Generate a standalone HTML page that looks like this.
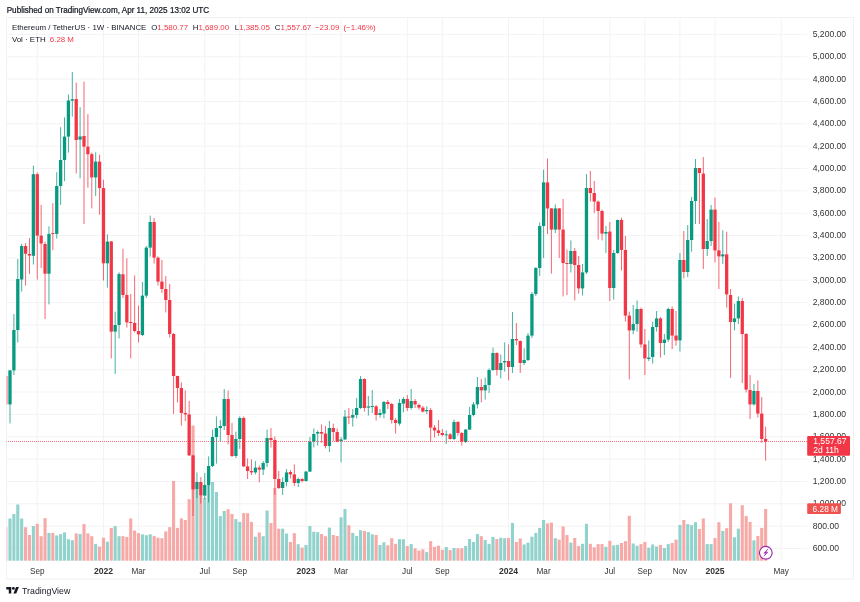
<!DOCTYPE html>
<html><head><meta charset="utf-8"><title>ETHUSDT 1W</title>
<style>html,body{margin:0;padding:0;background:#fff;}body{width:860px;height:602px;overflow:hidden;position:relative;}</style>
</head><body>
<svg width="860" height="602" viewBox="0 0 860 602" style="position:absolute;left:0;top:0;will-change:transform"><defs><clipPath id="pane"><rect x="6.5" y="17.5" width="800.5" height="543.5"/></clipPath></defs><rect x="6.5" y="17.5" width="847" height="561.6" fill="none" stroke="#f1f1f3" stroke-width="1"/><g clip-path="url(#pane)"><rect x="6.5" y="33.90" width="800.5" height="1" fill="#f3f3f5"/><rect x="6.5" y="56.25" width="800.5" height="1" fill="#f3f3f5"/><rect x="6.5" y="78.60" width="800.5" height="1" fill="#f3f3f5"/><rect x="6.5" y="100.96" width="800.5" height="1" fill="#f3f3f5"/><rect x="6.5" y="123.31" width="800.5" height="1" fill="#f3f3f5"/><rect x="6.5" y="145.66" width="800.5" height="1" fill="#f3f3f5"/><rect x="6.5" y="168.01" width="800.5" height="1" fill="#f3f3f5"/><rect x="6.5" y="190.36" width="800.5" height="1" fill="#f3f3f5"/><rect x="6.5" y="212.72" width="800.5" height="1" fill="#f3f3f5"/><rect x="6.5" y="235.07" width="800.5" height="1" fill="#f3f3f5"/><rect x="6.5" y="257.42" width="800.5" height="1" fill="#f3f3f5"/><rect x="6.5" y="279.77" width="800.5" height="1" fill="#f3f3f5"/><rect x="6.5" y="302.12" width="800.5" height="1" fill="#f3f3f5"/><rect x="6.5" y="324.48" width="800.5" height="1" fill="#f3f3f5"/><rect x="6.5" y="346.83" width="800.5" height="1" fill="#f3f3f5"/><rect x="6.5" y="369.18" width="800.5" height="1" fill="#f3f3f5"/><rect x="6.5" y="391.53" width="800.5" height="1" fill="#f3f3f5"/><rect x="6.5" y="413.88" width="800.5" height="1" fill="#f3f3f5"/><rect x="6.5" y="436.24" width="800.5" height="1" fill="#f3f3f5"/><rect x="6.5" y="458.59" width="800.5" height="1" fill="#f3f3f5"/><rect x="6.5" y="480.94" width="800.5" height="1" fill="#f3f3f5"/><rect x="6.5" y="503.29" width="800.5" height="1" fill="#f3f3f5"/><rect x="6.5" y="525.64" width="800.5" height="1" fill="#f3f3f5"/><rect x="6.5" y="548.00" width="800.5" height="1" fill="#f3f3f5"/><rect x="36.76" y="17.5" width="1" height="543.5" fill="#f3f3f5"/><rect x="102.97" y="17.5" width="1" height="543.5" fill="#f3f3f5"/><rect x="138.03" y="17.5" width="1" height="543.5" fill="#f3f3f5"/><rect x="204.25" y="17.5" width="1" height="543.5" fill="#f3f3f5"/><rect x="239.30" y="17.5" width="1" height="543.5" fill="#f3f3f5"/><rect x="305.52" y="17.5" width="1" height="543.5" fill="#f3f3f5"/><rect x="340.57" y="17.5" width="1" height="543.5" fill="#f3f3f5"/><rect x="406.79" y="17.5" width="1" height="543.5" fill="#f3f3f5"/><rect x="441.84" y="17.5" width="1" height="543.5" fill="#f3f3f5"/><rect x="508.06" y="17.5" width="1" height="543.5" fill="#f3f3f5"/><rect x="543.11" y="17.5" width="1" height="543.5" fill="#f3f3f5"/><rect x="609.33" y="17.5" width="1" height="543.5" fill="#f3f3f5"/><rect x="644.38" y="17.5" width="1" height="543.5" fill="#f3f3f5"/><rect x="679.44" y="17.5" width="1" height="543.5" fill="#f3f3f5"/><rect x="714.49" y="17.5" width="1" height="543.5" fill="#f3f3f5"/><rect x="780.71" y="17.5" width="1" height="543.5" fill="#f3f3f5"/><g><rect x="4.55" y="527.20" width="3.1" height="33.50" fill="#f7a9a7" opacity="0.55"/><rect x="8.44" y="518.50" width="3.1" height="42.20" fill="#92d2cc"/><rect x="12.34" y="514.00" width="3.1" height="46.70" fill="#92d2cc"/><rect x="16.23" y="504.50" width="3.1" height="56.20" fill="#92d2cc"/><rect x="20.13" y="518.50" width="3.1" height="42.20" fill="#92d2cc"/><rect x="24.03" y="527.20" width="3.1" height="33.50" fill="#f7a9a7"/><rect x="27.92" y="535.00" width="3.1" height="25.70" fill="#f7a9a7"/><rect x="31.82" y="526.00" width="3.1" height="34.70" fill="#92d2cc"/><rect x="35.71" y="523.80" width="3.1" height="36.90" fill="#f7a9a7"/><rect x="39.61" y="536.20" width="3.1" height="24.50" fill="#f7a9a7"/><rect x="43.50" y="518.20" width="3.1" height="42.50" fill="#f7a9a7"/><rect x="47.40" y="532.90" width="3.1" height="27.80" fill="#92d2cc"/><rect x="51.29" y="533.00" width="3.1" height="27.70" fill="#f7a9a7"/><rect x="55.19" y="535.50" width="3.1" height="25.20" fill="#92d2cc"/><rect x="59.08" y="534.10" width="3.1" height="26.60" fill="#92d2cc"/><rect x="62.97" y="532.40" width="3.1" height="28.30" fill="#92d2cc"/><rect x="66.87" y="539.20" width="3.1" height="21.50" fill="#92d2cc"/><rect x="70.77" y="540.20" width="3.1" height="20.50" fill="#92d2cc"/><rect x="74.66" y="533.40" width="3.1" height="27.30" fill="#f7a9a7"/><rect x="78.55" y="534.00" width="3.1" height="26.70" fill="#92d2cc"/><rect x="82.45" y="524.10" width="3.1" height="36.60" fill="#f7a9a7"/><rect x="86.34" y="533.40" width="3.1" height="27.30" fill="#f7a9a7"/><rect x="90.24" y="536.20" width="3.1" height="24.50" fill="#f7a9a7"/><rect x="94.13" y="544.10" width="3.1" height="16.60" fill="#92d2cc"/><rect x="98.03" y="546.50" width="3.1" height="14.20" fill="#f7a9a7"/><rect x="101.92" y="537.70" width="3.1" height="23.00" fill="#f7a9a7"/><rect x="105.82" y="541.70" width="3.1" height="19.00" fill="#92d2cc"/><rect x="109.72" y="527.90" width="3.1" height="32.80" fill="#f7a9a7"/><rect x="113.61" y="526.10" width="3.1" height="34.60" fill="#92d2cc"/><rect x="117.50" y="536.20" width="3.1" height="24.50" fill="#92d2cc"/><rect x="121.40" y="536.20" width="3.1" height="24.50" fill="#f7a9a7"/><rect x="125.30" y="537.00" width="3.1" height="23.70" fill="#f7a9a7"/><rect x="129.19" y="518.50" width="3.1" height="42.20" fill="#f7a9a7"/><rect x="133.08" y="530.60" width="3.1" height="30.10" fill="#f7a9a7"/><rect x="136.98" y="533.20" width="3.1" height="27.50" fill="#f7a9a7"/><rect x="140.87" y="534.40" width="3.1" height="26.30" fill="#92d2cc"/><rect x="144.77" y="535.20" width="3.1" height="25.50" fill="#92d2cc"/><rect x="148.66" y="534.30" width="3.1" height="26.40" fill="#92d2cc"/><rect x="152.56" y="536.10" width="3.1" height="24.60" fill="#f7a9a7"/><rect x="156.45" y="537.70" width="3.1" height="23.00" fill="#f7a9a7"/><rect x="160.35" y="538.20" width="3.1" height="22.50" fill="#f7a9a7"/><rect x="164.24" y="531.40" width="3.1" height="29.30" fill="#f7a9a7"/><rect x="168.14" y="527.20" width="3.1" height="33.50" fill="#f7a9a7"/><rect x="172.03" y="481.00" width="3.1" height="79.70" fill="#f7a9a7"/><rect x="175.93" y="527.90" width="3.1" height="32.80" fill="#f7a9a7"/><rect x="179.82" y="518.40" width="3.1" height="42.30" fill="#f7a9a7"/><rect x="183.72" y="520.00" width="3.1" height="40.70" fill="#f7a9a7"/><rect x="187.61" y="499.20" width="3.1" height="61.50" fill="#f7a9a7"/><rect x="191.51" y="425.50" width="3.1" height="135.20" fill="#f7a9a7"/><rect x="195.40" y="490.00" width="3.1" height="70.70" fill="#92d2cc"/><rect x="199.30" y="496.00" width="3.1" height="64.70" fill="#f7a9a7"/><rect x="203.19" y="498.00" width="3.1" height="62.70" fill="#92d2cc"/><rect x="207.09" y="485.00" width="3.1" height="75.70" fill="#92d2cc"/><rect x="210.98" y="482.00" width="3.1" height="78.70" fill="#92d2cc"/><rect x="214.88" y="492.00" width="3.1" height="68.70" fill="#92d2cc"/><rect x="218.77" y="516.10" width="3.1" height="44.60" fill="#92d2cc"/><rect x="222.67" y="511.00" width="3.1" height="49.70" fill="#92d2cc"/><rect x="226.56" y="509.20" width="3.1" height="51.50" fill="#f7a9a7"/><rect x="230.46" y="513.90" width="3.1" height="46.80" fill="#f7a9a7"/><rect x="234.35" y="519.10" width="3.1" height="41.60" fill="#92d2cc"/><rect x="238.25" y="521.90" width="3.1" height="38.80" fill="#92d2cc"/><rect x="242.14" y="513.10" width="3.1" height="47.60" fill="#f7a9a7"/><rect x="246.04" y="513.20" width="3.1" height="47.50" fill="#f7a9a7"/><rect x="249.93" y="521.90" width="3.1" height="38.80" fill="#f7a9a7"/><rect x="253.83" y="536.70" width="3.1" height="24.00" fill="#92d2cc"/><rect x="257.73" y="532.40" width="3.1" height="28.30" fill="#f7a9a7"/><rect x="261.62" y="536.20" width="3.1" height="24.50" fill="#92d2cc"/><rect x="265.51" y="510.50" width="3.1" height="50.20" fill="#92d2cc"/><rect x="269.41" y="523.10" width="3.1" height="37.60" fill="#f7a9a7"/><rect x="273.31" y="488.00" width="3.1" height="72.70" fill="#f7a9a7"/><rect x="277.20" y="528.70" width="3.1" height="32.00" fill="#f7a9a7"/><rect x="281.10" y="528.70" width="3.1" height="32.00" fill="#92d2cc"/><rect x="284.99" y="533.50" width="3.1" height="27.20" fill="#92d2cc"/><rect x="288.88" y="542.00" width="3.1" height="18.70" fill="#f7a9a7"/><rect x="292.78" y="533.20" width="3.1" height="27.50" fill="#f7a9a7"/><rect x="296.68" y="544.20" width="3.1" height="16.50" fill="#92d2cc"/><rect x="300.57" y="547.60" width="3.1" height="13.10" fill="#f7a9a7"/><rect x="304.47" y="545.00" width="3.1" height="15.70" fill="#92d2cc"/><rect x="308.36" y="526.00" width="3.1" height="34.70" fill="#92d2cc"/><rect x="312.25" y="531.70" width="3.1" height="29.00" fill="#92d2cc"/><rect x="316.15" y="532.10" width="3.1" height="28.60" fill="#92d2cc"/><rect x="320.05" y="534.00" width="3.1" height="26.70" fill="#f7a9a7"/><rect x="323.94" y="536.20" width="3.1" height="24.50" fill="#f7a9a7"/><rect x="327.84" y="527.60" width="3.1" height="33.10" fill="#92d2cc"/><rect x="331.73" y="535.00" width="3.1" height="25.70" fill="#f7a9a7"/><rect x="335.62" y="535.90" width="3.1" height="24.80" fill="#f7a9a7"/><rect x="339.52" y="517.30" width="3.1" height="43.40" fill="#92d2cc"/><rect x="343.42" y="509.00" width="3.1" height="51.70" fill="#92d2cc"/><rect x="347.31" y="525.20" width="3.1" height="35.50" fill="#f7a9a7"/><rect x="351.21" y="532.90" width="3.1" height="27.80" fill="#92d2cc"/><rect x="355.10" y="535.90" width="3.1" height="24.80" fill="#92d2cc"/><rect x="359.00" y="530.20" width="3.1" height="30.50" fill="#92d2cc"/><rect x="362.89" y="530.90" width="3.1" height="29.80" fill="#f7a9a7"/><rect x="366.79" y="532.10" width="3.1" height="28.60" fill="#92d2cc"/><rect x="370.68" y="534.30" width="3.1" height="26.40" fill="#92d2cc"/><rect x="374.57" y="535.00" width="3.1" height="25.70" fill="#f7a9a7"/><rect x="378.47" y="545.00" width="3.1" height="15.70" fill="#92d2cc"/><rect x="382.37" y="542.30" width="3.1" height="18.40" fill="#92d2cc"/><rect x="386.26" y="545.30" width="3.1" height="15.40" fill="#f7a9a7"/><rect x="390.16" y="538.20" width="3.1" height="22.50" fill="#f7a9a7"/><rect x="394.05" y="543.80" width="3.1" height="16.90" fill="#f7a9a7"/><rect x="397.94" y="539.20" width="3.1" height="21.50" fill="#92d2cc"/><rect x="401.84" y="539.20" width="3.1" height="21.50" fill="#92d2cc"/><rect x="405.74" y="546.00" width="3.1" height="14.70" fill="#f7a9a7"/><rect x="409.63" y="544.10" width="3.1" height="16.60" fill="#92d2cc"/><rect x="413.53" y="548.30" width="3.1" height="12.40" fill="#f7a9a7"/><rect x="417.42" y="550.60" width="3.1" height="10.10" fill="#f7a9a7"/><rect x="421.31" y="549.40" width="3.1" height="11.30" fill="#f7a9a7"/><rect x="425.21" y="552.10" width="3.1" height="8.60" fill="#92d2cc"/><rect x="429.11" y="541.10" width="3.1" height="19.60" fill="#f7a9a7"/><rect x="433.00" y="546.80" width="3.1" height="13.90" fill="#f7a9a7"/><rect x="436.90" y="545.70" width="3.1" height="15.00" fill="#f7a9a7"/><rect x="440.79" y="549.80" width="3.1" height="10.90" fill="#f7a9a7"/><rect x="444.69" y="547.00" width="3.1" height="13.70" fill="#92d2cc"/><rect x="448.58" y="550.10" width="3.1" height="10.60" fill="#f7a9a7"/><rect x="452.48" y="548.00" width="3.1" height="12.70" fill="#92d2cc"/><rect x="456.37" y="548.30" width="3.1" height="12.40" fill="#f7a9a7"/><rect x="460.26" y="548.30" width="3.1" height="12.40" fill="#f7a9a7"/><rect x="464.16" y="546.00" width="3.1" height="14.70" fill="#92d2cc"/><rect x="468.06" y="539.00" width="3.1" height="21.70" fill="#92d2cc"/><rect x="471.95" y="542.00" width="3.1" height="18.70" fill="#92d2cc"/><rect x="475.85" y="534.00" width="3.1" height="26.70" fill="#92d2cc"/><rect x="479.74" y="536.20" width="3.1" height="24.50" fill="#f7a9a7"/><rect x="483.63" y="540.00" width="3.1" height="20.70" fill="#92d2cc"/><rect x="487.53" y="543.80" width="3.1" height="16.90" fill="#92d2cc"/><rect x="491.43" y="537.00" width="3.1" height="23.70" fill="#92d2cc"/><rect x="495.32" y="539.00" width="3.1" height="21.70" fill="#f7a9a7"/><rect x="499.22" y="537.70" width="3.1" height="23.00" fill="#92d2cc"/><rect x="503.11" y="538.20" width="3.1" height="22.50" fill="#92d2cc"/><rect x="507.00" y="538.00" width="3.1" height="22.70" fill="#f7a9a7"/><rect x="510.90" y="522.90" width="3.1" height="37.80" fill="#92d2cc"/><rect x="514.80" y="542.00" width="3.1" height="18.70" fill="#f7a9a7"/><rect x="518.69" y="538.50" width="3.1" height="22.20" fill="#f7a9a7"/><rect x="522.59" y="544.50" width="3.1" height="16.20" fill="#92d2cc"/><rect x="526.48" y="542.60" width="3.1" height="18.10" fill="#92d2cc"/><rect x="530.38" y="536.70" width="3.1" height="24.00" fill="#92d2cc"/><rect x="534.27" y="532.90" width="3.1" height="27.80" fill="#92d2cc"/><rect x="538.17" y="527.90" width="3.1" height="32.80" fill="#92d2cc"/><rect x="542.06" y="520.00" width="3.1" height="40.70" fill="#92d2cc"/><rect x="545.96" y="523.40" width="3.1" height="37.30" fill="#f7a9a7"/><rect x="549.85" y="522.60" width="3.1" height="38.10" fill="#f7a9a7"/><rect x="553.75" y="538.20" width="3.1" height="22.50" fill="#92d2cc"/><rect x="557.64" y="539.60" width="3.1" height="21.10" fill="#f7a9a7"/><rect x="561.54" y="526.40" width="3.1" height="34.30" fill="#f7a9a7"/><rect x="565.43" y="535.00" width="3.1" height="25.70" fill="#f7a9a7"/><rect x="569.33" y="542.60" width="3.1" height="18.10" fill="#92d2cc"/><rect x="573.22" y="538.00" width="3.1" height="22.70" fill="#f7a9a7"/><rect x="577.12" y="546.00" width="3.1" height="14.70" fill="#f7a9a7"/><rect x="581.01" y="543.80" width="3.1" height="16.90" fill="#92d2cc"/><rect x="584.91" y="523.80" width="3.1" height="36.90" fill="#92d2cc"/><rect x="588.80" y="543.80" width="3.1" height="16.90" fill="#f7a9a7"/><rect x="592.70" y="547.30" width="3.1" height="13.40" fill="#f7a9a7"/><rect x="596.59" y="544.10" width="3.1" height="16.60" fill="#f7a9a7"/><rect x="600.49" y="544.10" width="3.1" height="16.60" fill="#f7a9a7"/><rect x="604.38" y="546.80" width="3.1" height="13.90" fill="#92d2cc"/><rect x="608.28" y="540.80" width="3.1" height="19.90" fill="#f7a9a7"/><rect x="612.17" y="545.30" width="3.1" height="15.40" fill="#92d2cc"/><rect x="616.07" y="544.80" width="3.1" height="15.90" fill="#92d2cc"/><rect x="619.96" y="543.00" width="3.1" height="17.70" fill="#f7a9a7"/><rect x="623.86" y="541.10" width="3.1" height="19.60" fill="#f7a9a7"/><rect x="627.75" y="515.80" width="3.1" height="44.90" fill="#f7a9a7"/><rect x="631.65" y="543.50" width="3.1" height="17.20" fill="#92d2cc"/><rect x="635.54" y="545.70" width="3.1" height="15.00" fill="#92d2cc"/><rect x="639.44" y="544.10" width="3.1" height="16.60" fill="#f7a9a7"/><rect x="643.33" y="542.00" width="3.1" height="18.70" fill="#f7a9a7"/><rect x="647.23" y="547.60" width="3.1" height="13.10" fill="#92d2cc"/><rect x="651.12" y="544.50" width="3.1" height="16.20" fill="#92d2cc"/><rect x="655.02" y="546.50" width="3.1" height="14.20" fill="#92d2cc"/><rect x="658.91" y="545.00" width="3.1" height="15.70" fill="#f7a9a7"/><rect x="662.81" y="548.00" width="3.1" height="12.70" fill="#92d2cc"/><rect x="666.70" y="544.10" width="3.1" height="16.60" fill="#92d2cc"/><rect x="670.60" y="543.00" width="3.1" height="17.70" fill="#f7a9a7"/><rect x="674.49" y="539.70" width="3.1" height="21.00" fill="#f7a9a7"/><rect x="678.39" y="524.90" width="3.1" height="35.80" fill="#92d2cc"/><rect x="682.28" y="520.00" width="3.1" height="40.70" fill="#f7a9a7"/><rect x="686.18" y="524.10" width="3.1" height="36.60" fill="#92d2cc"/><rect x="690.07" y="525.20" width="3.1" height="35.50" fill="#92d2cc"/><rect x="693.97" y="522.20" width="3.1" height="38.50" fill="#92d2cc"/><rect x="697.86" y="529.00" width="3.1" height="31.70" fill="#f7a9a7"/><rect x="701.76" y="518.50" width="3.1" height="42.20" fill="#f7a9a7"/><rect x="705.65" y="544.10" width="3.1" height="16.60" fill="#92d2cc"/><rect x="709.55" y="544.10" width="3.1" height="16.60" fill="#92d2cc"/><rect x="713.44" y="538.00" width="3.1" height="22.70" fill="#f7a9a7"/><rect x="717.34" y="522.20" width="3.1" height="38.50" fill="#f7a9a7"/><rect x="721.23" y="530.90" width="3.1" height="29.80" fill="#92d2cc"/><rect x="725.13" y="528.20" width="3.1" height="32.50" fill="#f7a9a7"/><rect x="729.02" y="503.30" width="3.1" height="57.40" fill="#f7a9a7"/><rect x="732.92" y="537.30" width="3.1" height="23.40" fill="#92d2cc"/><rect x="736.81" y="528.70" width="3.1" height="32.00" fill="#92d2cc"/><rect x="740.71" y="505.20" width="3.1" height="55.50" fill="#f7a9a7"/><rect x="744.60" y="516.10" width="3.1" height="44.60" fill="#f7a9a7"/><rect x="748.50" y="521.90" width="3.1" height="38.80" fill="#f7a9a7"/><rect x="752.39" y="540.30" width="3.1" height="20.40" fill="#92d2cc"/><rect x="756.29" y="535.90" width="3.1" height="24.80" fill="#f7a9a7"/><rect x="760.18" y="527.90" width="3.1" height="32.80" fill="#f7a9a7"/><rect x="764.08" y="509.00" width="3.1" height="51.70" fill="#f7a9a7"/></g><g opacity="0.75"><rect x="9.49" y="370.00" width="1.0" height="53.50" fill="#089981"/><rect x="13.39" y="314.00" width="1.0" height="61.00" fill="#089981"/><rect x="17.29" y="259.00" width="1.0" height="83.40" fill="#089981"/><rect x="21.18" y="243.60" width="1.0" height="48.00" fill="#089981"/><rect x="25.08" y="243.00" width="1.0" height="42.60" fill="#F23645"/><rect x="28.97" y="238.00" width="1.0" height="36.00" fill="#F23645"/><rect x="32.87" y="165.60" width="1.0" height="98.90" fill="#089981"/><rect x="36.76" y="172.40" width="1.0" height="107.20" fill="#F23645"/><rect x="40.66" y="204.90" width="1.0" height="63.20" fill="#F23645"/><rect x="44.55" y="241.60" width="1.0" height="77.40" fill="#F23645"/><rect x="48.45" y="226.30" width="1.0" height="78.10" fill="#089981"/><rect x="52.34" y="203.10" width="1.0" height="47.10" fill="#F23645"/><rect x="56.23" y="172.20" width="1.0" height="66.40" fill="#089981"/><rect x="60.13" y="127.20" width="1.0" height="77.70" fill="#089981"/><rect x="64.02" y="117.40" width="1.0" height="63.80" fill="#089981"/><rect x="67.92" y="94.40" width="1.0" height="58.20" fill="#089981"/><rect x="71.81" y="72.00" width="1.0" height="44.60" fill="#089981"/><rect x="75.71" y="82.60" width="1.0" height="90.90" fill="#F23645"/><rect x="79.60" y="107.20" width="1.0" height="71.20" fill="#089981"/><rect x="83.50" y="81.60" width="1.0" height="142.40" fill="#F23645"/><rect x="87.39" y="114.20" width="1.0" height="73.50" fill="#F23645"/><rect x="91.29" y="152.60" width="1.0" height="55.80" fill="#F23645"/><rect x="95.18" y="152.30" width="1.0" height="43.80" fill="#089981"/><rect x="99.08" y="154.60" width="1.0" height="60.10" fill="#F23645"/><rect x="102.97" y="179.80" width="1.0" height="100.70" fill="#F23645"/><rect x="106.87" y="234.30" width="1.0" height="53.30" fill="#089981"/><rect x="110.77" y="241.00" width="1.0" height="117.40" fill="#F23645"/><rect x="114.66" y="311.60" width="1.0" height="62.40" fill="#089981"/><rect x="118.55" y="272.30" width="1.0" height="66.10" fill="#089981"/><rect x="122.45" y="248.80" width="1.0" height="49.20" fill="#F23645"/><rect x="126.34" y="258.30" width="1.0" height="69.30" fill="#F23645"/><rect x="130.24" y="294.00" width="1.0" height="64.40" fill="#F23645"/><rect x="134.13" y="275.40" width="1.0" height="57.00" fill="#F23645"/><rect x="138.03" y="305.60" width="1.0" height="36.80" fill="#F23645"/><rect x="141.92" y="282.00" width="1.0" height="54.00" fill="#089981"/><rect x="145.82" y="246.00" width="1.0" height="52.00" fill="#089981"/><rect x="149.72" y="215.60" width="1.0" height="41.00" fill="#089981"/><rect x="153.61" y="218.00" width="1.0" height="45.60" fill="#F23645"/><rect x="157.50" y="256.40" width="1.0" height="29.20" fill="#F23645"/><rect x="161.40" y="260.00" width="1.0" height="33.00" fill="#F23645"/><rect x="165.29" y="276.00" width="1.0" height="36.40" fill="#F23645"/><rect x="169.19" y="284.00" width="1.0" height="53.60" fill="#F23645"/><rect x="173.09" y="333.00" width="1.0" height="81.00" fill="#F23645"/><rect x="176.98" y="375.60" width="1.0" height="26.80" fill="#F23645"/><rect x="180.88" y="382.40" width="1.0" height="43.20" fill="#F23645"/><rect x="184.77" y="390.40" width="1.0" height="30.60" fill="#F23645"/><rect x="188.66" y="401.00" width="1.0" height="55.00" fill="#F23645"/><rect x="192.56" y="455.00" width="1.0" height="61.00" fill="#F23645"/><rect x="196.45" y="472.40" width="1.0" height="25.60" fill="#089981"/><rect x="200.35" y="477.00" width="1.0" height="26.60" fill="#F23645"/><rect x="204.25" y="473.00" width="1.0" height="26.00" fill="#089981"/><rect x="208.14" y="456.40" width="1.0" height="46.00" fill="#089981"/><rect x="212.03" y="429.60" width="1.0" height="37.40" fill="#089981"/><rect x="215.93" y="416.40" width="1.0" height="47.20" fill="#089981"/><rect x="219.82" y="420.00" width="1.0" height="21.00" fill="#089981"/><rect x="223.72" y="389.00" width="1.0" height="41.00" fill="#089981"/><rect x="227.62" y="390.60" width="1.0" height="53.80" fill="#F23645"/><rect x="231.51" y="423.00" width="1.0" height="34.00" fill="#F23645"/><rect x="235.41" y="431.60" width="1.0" height="26.40" fill="#089981"/><rect x="239.30" y="416.40" width="1.0" height="32.60" fill="#089981"/><rect x="243.19" y="416.40" width="1.0" height="50.60" fill="#F23645"/><rect x="247.09" y="458.40" width="1.0" height="20.60" fill="#F23645"/><rect x="250.98" y="459.40" width="1.0" height="15.60" fill="#F23645"/><rect x="254.88" y="461.00" width="1.0" height="13.40" fill="#089981"/><rect x="258.78" y="465.60" width="1.0" height="16.80" fill="#F23645"/><rect x="262.67" y="461.00" width="1.0" height="14.00" fill="#089981"/><rect x="266.56" y="429.60" width="1.0" height="37.40" fill="#089981"/><rect x="270.46" y="428.00" width="1.0" height="19.60" fill="#F23645"/><rect x="274.36" y="436.40" width="1.0" height="58.60" fill="#F23645"/><rect x="278.25" y="471.00" width="1.0" height="18.00" fill="#F23645"/><rect x="282.15" y="477.40" width="1.0" height="17.60" fill="#089981"/><rect x="286.04" y="469.00" width="1.0" height="17.40" fill="#089981"/><rect x="289.94" y="470.00" width="1.0" height="8.40" fill="#F23645"/><rect x="293.83" y="464.40" width="1.0" height="21.60" fill="#F23645"/><rect x="297.73" y="477.60" width="1.0" height="9.40" fill="#089981"/><rect x="301.62" y="478.00" width="1.0" height="4.40" fill="#F23645"/><rect x="305.52" y="471.00" width="1.0" height="10.60" fill="#089981"/><rect x="309.41" y="437.00" width="1.0" height="35.00" fill="#089981"/><rect x="313.31" y="428.40" width="1.0" height="19.00" fill="#089981"/><rect x="317.20" y="430.40" width="1.0" height="15.20" fill="#089981"/><rect x="321.10" y="424.40" width="1.0" height="18.60" fill="#F23645"/><rect x="324.99" y="426.00" width="1.0" height="22.40" fill="#F23645"/><rect x="328.89" y="421.00" width="1.0" height="31.00" fill="#089981"/><rect x="332.78" y="423.60" width="1.0" height="17.40" fill="#F23645"/><rect x="336.68" y="428.40" width="1.0" height="14.00" fill="#F23645"/><rect x="340.57" y="437.00" width="1.0" height="25.40" fill="#089981"/><rect x="344.47" y="410.00" width="1.0" height="30.00" fill="#089981"/><rect x="348.36" y="408.00" width="1.0" height="16.00" fill="#F23645"/><rect x="352.26" y="409.00" width="1.0" height="17.60" fill="#089981"/><rect x="356.15" y="398.00" width="1.0" height="20.40" fill="#089981"/><rect x="360.05" y="376.00" width="1.0" height="33.00" fill="#089981"/><rect x="363.94" y="378.40" width="1.0" height="33.20" fill="#F23645"/><rect x="367.84" y="396.00" width="1.0" height="19.60" fill="#089981"/><rect x="371.73" y="390.00" width="1.0" height="23.00" fill="#089981"/><rect x="375.62" y="405.00" width="1.0" height="15.60" fill="#F23645"/><rect x="379.52" y="409.00" width="1.0" height="8.60" fill="#089981"/><rect x="383.42" y="401.00" width="1.0" height="17.40" fill="#089981"/><rect x="387.31" y="400.00" width="1.0" height="9.00" fill="#F23645"/><rect x="391.21" y="403.00" width="1.0" height="20.60" fill="#F23645"/><rect x="395.10" y="418.00" width="1.0" height="15.60" fill="#F23645"/><rect x="399.00" y="399.00" width="1.0" height="26.60" fill="#089981"/><rect x="402.89" y="397.00" width="1.0" height="15.40" fill="#089981"/><rect x="406.79" y="395.00" width="1.0" height="16.00" fill="#F23645"/><rect x="410.68" y="389.00" width="1.0" height="20.60" fill="#089981"/><rect x="414.58" y="399.00" width="1.0" height="9.00" fill="#F23645"/><rect x="418.47" y="403.60" width="1.0" height="6.00" fill="#F23645"/><rect x="422.37" y="406.00" width="1.0" height="6.40" fill="#F23645"/><rect x="426.26" y="406.40" width="1.0" height="7.60" fill="#089981"/><rect x="430.16" y="408.00" width="1.0" height="34.00" fill="#F23645"/><rect x="434.05" y="425.00" width="1.0" height="12.60" fill="#F23645"/><rect x="437.95" y="420.00" width="1.0" height="16.00" fill="#F23645"/><rect x="441.84" y="429.00" width="1.0" height="7.40" fill="#F23645"/><rect x="445.74" y="430.40" width="1.0" height="13.60" fill="#089981"/><rect x="449.63" y="433.00" width="1.0" height="6.60" fill="#F23645"/><rect x="453.53" y="419.60" width="1.0" height="20.40" fill="#089981"/><rect x="457.42" y="421.00" width="1.0" height="14.60" fill="#F23645"/><rect x="461.31" y="432.00" width="1.0" height="13.60" fill="#F23645"/><rect x="465.21" y="429.00" width="1.0" height="14.00" fill="#089981"/><rect x="469.11" y="407.00" width="1.0" height="23.00" fill="#089981"/><rect x="473.00" y="402.00" width="1.0" height="14.40" fill="#089981"/><rect x="476.90" y="377.00" width="1.0" height="31.40" fill="#089981"/><rect x="480.79" y="379.00" width="1.0" height="23.40" fill="#F23645"/><rect x="484.69" y="377.60" width="1.0" height="22.00" fill="#089981"/><rect x="488.58" y="368.40" width="1.0" height="24.60" fill="#089981"/><rect x="492.48" y="347.60" width="1.0" height="23.40" fill="#089981"/><rect x="496.37" y="352.40" width="1.0" height="23.20" fill="#F23645"/><rect x="500.27" y="354.40" width="1.0" height="24.00" fill="#089981"/><rect x="504.16" y="342.40" width="1.0" height="29.20" fill="#089981"/><rect x="508.06" y="344.40" width="1.0" height="36.00" fill="#F23645"/><rect x="511.95" y="312.00" width="1.0" height="61.00" fill="#089981"/><rect x="515.85" y="323.00" width="1.0" height="22.00" fill="#F23645"/><rect x="519.74" y="340.40" width="1.0" height="32.60" fill="#F23645"/><rect x="523.63" y="348.40" width="1.0" height="16.60" fill="#089981"/><rect x="527.53" y="333.00" width="1.0" height="28.00" fill="#089981"/><rect x="531.43" y="292.00" width="1.0" height="46.00" fill="#089981"/><rect x="535.32" y="267.00" width="1.0" height="29.00" fill="#089981"/><rect x="539.22" y="222.40" width="1.0" height="53.60" fill="#089981"/><rect x="543.11" y="169.60" width="1.0" height="88.40" fill="#089981"/><rect x="547.00" y="158.40" width="1.0" height="75.60" fill="#F23645"/><rect x="550.90" y="208.00" width="1.0" height="65.60" fill="#F23645"/><rect x="554.80" y="204.40" width="1.0" height="28.60" fill="#089981"/><rect x="558.69" y="208.00" width="1.0" height="50.00" fill="#F23645"/><rect x="562.59" y="199.00" width="1.0" height="97.40" fill="#F23645"/><rect x="566.48" y="249.60" width="1.0" height="45.40" fill="#F23645"/><rect x="570.38" y="240.40" width="1.0" height="32.00" fill="#089981"/><rect x="574.27" y="248.00" width="1.0" height="52.40" fill="#F23645"/><rect x="578.17" y="256.00" width="1.0" height="37.60" fill="#F23645"/><rect x="582.06" y="264.00" width="1.0" height="31.60" fill="#089981"/><rect x="585.96" y="174.00" width="1.0" height="100.00" fill="#089981"/><rect x="589.85" y="171.00" width="1.0" height="30.60" fill="#F23645"/><rect x="593.75" y="181.00" width="1.0" height="32.00" fill="#F23645"/><rect x="597.64" y="200.40" width="1.0" height="39.20" fill="#F23645"/><rect x="601.54" y="209.60" width="1.0" height="30.80" fill="#F23645"/><rect x="605.43" y="226.00" width="1.0" height="27.00" fill="#089981"/><rect x="609.33" y="222.00" width="1.0" height="79.00" fill="#F23645"/><rect x="613.22" y="250.00" width="1.0" height="49.60" fill="#089981"/><rect x="617.12" y="219.60" width="1.0" height="34.40" fill="#089981"/><rect x="621.01" y="217.60" width="1.0" height="52.80" fill="#F23645"/><rect x="624.90" y="236.00" width="1.0" height="85.60" fill="#F23645"/><rect x="628.80" y="311.60" width="1.0" height="67.80" fill="#F23645"/><rect x="632.70" y="305.00" width="1.0" height="29.40" fill="#089981"/><rect x="636.59" y="300.40" width="1.0" height="31.20" fill="#089981"/><rect x="640.49" y="307.60" width="1.0" height="40.00" fill="#F23645"/><rect x="644.38" y="329.00" width="1.0" height="46.00" fill="#F23645"/><rect x="648.27" y="340.40" width="1.0" height="20.60" fill="#089981"/><rect x="652.17" y="321.60" width="1.0" height="42.00" fill="#089981"/><rect x="656.07" y="311.00" width="1.0" height="20.60" fill="#089981"/><rect x="659.96" y="317.00" width="1.0" height="40.60" fill="#F23645"/><rect x="663.86" y="334.00" width="1.0" height="21.00" fill="#089981"/><rect x="667.75" y="307.60" width="1.0" height="34.40" fill="#089981"/><rect x="671.64" y="306.40" width="1.0" height="42.60" fill="#F23645"/><rect x="675.54" y="311.00" width="1.0" height="34.60" fill="#F23645"/><rect x="679.44" y="253.00" width="1.0" height="98.60" fill="#089981"/><rect x="683.33" y="231.00" width="1.0" height="47.40" fill="#F23645"/><rect x="687.23" y="225.00" width="1.0" height="52.00" fill="#089981"/><rect x="691.12" y="197.00" width="1.0" height="54.60" fill="#089981"/><rect x="695.01" y="159.00" width="1.0" height="65.00" fill="#089981"/><rect x="698.91" y="168.00" width="1.0" height="56.00" fill="#F23645"/><rect x="702.81" y="157.00" width="1.0" height="112.00" fill="#F23645"/><rect x="706.70" y="219.00" width="1.0" height="37.00" fill="#089981"/><rect x="710.60" y="205.00" width="1.0" height="41.00" fill="#089981"/><rect x="714.49" y="197.60" width="1.0" height="64.80" fill="#F23645"/><rect x="718.38" y="222.00" width="1.0" height="67.00" fill="#F23645"/><rect x="722.28" y="230.40" width="1.0" height="33.60" fill="#089981"/><rect x="726.18" y="231.60" width="1.0" height="76.00" fill="#F23645"/><rect x="730.07" y="289.00" width="1.0" height="89.00" fill="#F23645"/><rect x="733.97" y="303.60" width="1.0" height="26.80" fill="#089981"/><rect x="737.86" y="296.40" width="1.0" height="27.60" fill="#089981"/><rect x="741.75" y="298.00" width="1.0" height="85.00" fill="#F23645"/><rect x="745.65" y="333.00" width="1.0" height="59.40" fill="#F23645"/><rect x="749.55" y="375.00" width="1.0" height="44.00" fill="#F23645"/><rect x="753.44" y="384.00" width="1.0" height="21.60" fill="#089981"/><rect x="757.34" y="380.40" width="1.0" height="37.20" fill="#F23645"/><rect x="761.23" y="397.00" width="1.0" height="46.00" fill="#F23645"/><rect x="765.12" y="426.60" width="1.0" height="34.10" fill="#F23645"/></g><g><rect x="4.45" y="376.00" width="3.3" height="28.40" fill="#F23645" opacity="0.55"/><rect x="8.34" y="370.40" width="3.3" height="34.00" fill="#089981"/><rect x="12.24" y="330.00" width="3.3" height="40.40" fill="#089981"/><rect x="16.14" y="279.00" width="3.3" height="51.00" fill="#089981"/><rect x="20.03" y="246.00" width="3.3" height="33.50" fill="#089981"/><rect x="23.93" y="246.00" width="3.3" height="7.70" fill="#F23645"/><rect x="27.82" y="254.00" width="3.3" height="1.60" fill="#F23645"/><rect x="31.72" y="174.20" width="3.3" height="81.60" fill="#089981"/><rect x="35.61" y="174.20" width="3.3" height="61.40" fill="#F23645"/><rect x="39.51" y="235.60" width="3.3" height="7.90" fill="#F23645"/><rect x="43.40" y="244.00" width="3.3" height="29.70" fill="#F23645"/><rect x="47.30" y="233.90" width="3.3" height="39.80" fill="#089981"/><rect x="51.19" y="233.10" width="3.3" height="0.90" fill="#F23645"/><rect x="55.09" y="186.00" width="3.3" height="47.90" fill="#089981"/><rect x="58.98" y="160.00" width="3.3" height="26.00" fill="#089981"/><rect x="62.87" y="136.60" width="3.3" height="23.40" fill="#089981"/><rect x="66.77" y="100.50" width="3.3" height="36.10" fill="#089981"/><rect x="70.66" y="99.20" width="3.3" height="1.40" fill="#089981"/><rect x="74.56" y="99.00" width="3.3" height="41.00" fill="#F23645"/><rect x="78.45" y="136.50" width="3.3" height="3.10" fill="#089981"/><rect x="82.35" y="136.00" width="3.3" height="10.70" fill="#F23645"/><rect x="86.24" y="146.70" width="3.3" height="7.50" fill="#F23645"/><rect x="90.14" y="154.20" width="3.3" height="23.20" fill="#F23645"/><rect x="94.03" y="161.60" width="3.3" height="15.80" fill="#089981"/><rect x="97.93" y="161.60" width="3.3" height="26.50" fill="#F23645"/><rect x="101.82" y="188.10" width="3.3" height="75.20" fill="#F23645"/><rect x="105.72" y="241.60" width="3.3" height="21.70" fill="#089981"/><rect x="109.61" y="241.40" width="3.3" height="90.20" fill="#F23645"/><rect x="113.51" y="325.00" width="3.3" height="6.60" fill="#089981"/><rect x="117.40" y="274.00" width="3.3" height="51.00" fill="#089981"/><rect x="121.30" y="274.30" width="3.3" height="20.70" fill="#F23645"/><rect x="125.19" y="295.00" width="3.3" height="27.40" fill="#F23645"/><rect x="129.09" y="322.00" width="3.3" height="1.00" fill="#F23645"/><rect x="132.98" y="323.00" width="3.3" height="8.00" fill="#F23645"/><rect x="136.88" y="331.00" width="3.3" height="3.40" fill="#F23645"/><rect x="140.77" y="295.60" width="3.3" height="39.40" fill="#089981"/><rect x="144.67" y="247.60" width="3.3" height="48.00" fill="#089981"/><rect x="148.56" y="222.00" width="3.3" height="25.60" fill="#089981"/><rect x="152.46" y="222.00" width="3.3" height="35.60" fill="#F23645"/><rect x="156.35" y="257.60" width="3.3" height="24.00" fill="#F23645"/><rect x="160.25" y="281.60" width="3.3" height="7.40" fill="#F23645"/><rect x="164.14" y="289.00" width="3.3" height="11.00" fill="#F23645"/><rect x="168.04" y="300.00" width="3.3" height="34.00" fill="#F23645"/><rect x="171.94" y="334.00" width="3.3" height="42.00" fill="#F23645"/><rect x="175.83" y="376.00" width="3.3" height="12.00" fill="#F23645"/><rect x="179.72" y="388.00" width="3.3" height="25.00" fill="#F23645"/><rect x="183.62" y="413.00" width="3.3" height="1.40" fill="#F23645"/><rect x="187.51" y="414.40" width="3.3" height="41.00" fill="#F23645"/><rect x="191.41" y="455.40" width="3.3" height="34.00" fill="#F23645"/><rect x="195.30" y="482.00" width="3.3" height="7.40" fill="#089981"/><rect x="199.20" y="482.00" width="3.3" height="13.60" fill="#F23645"/><rect x="203.09" y="485.00" width="3.3" height="10.60" fill="#089981"/><rect x="206.99" y="466.00" width="3.3" height="19.00" fill="#089981"/><rect x="210.88" y="437.00" width="3.3" height="29.00" fill="#089981"/><rect x="214.78" y="428.00" width="3.3" height="9.00" fill="#089981"/><rect x="218.67" y="426.00" width="3.3" height="2.00" fill="#089981"/><rect x="222.57" y="399.00" width="3.3" height="27.00" fill="#089981"/><rect x="226.47" y="399.00" width="3.3" height="36.00" fill="#F23645"/><rect x="230.36" y="435.00" width="3.3" height="21.00" fill="#F23645"/><rect x="234.25" y="439.00" width="3.3" height="17.00" fill="#089981"/><rect x="238.15" y="418.00" width="3.3" height="21.00" fill="#089981"/><rect x="242.04" y="418.00" width="3.3" height="48.40" fill="#F23645"/><rect x="245.94" y="466.40" width="3.3" height="4.60" fill="#F23645"/><rect x="249.83" y="471.00" width="3.3" height="1.40" fill="#F23645"/><rect x="253.73" y="467.60" width="3.3" height="4.80" fill="#089981"/><rect x="257.63" y="467.60" width="3.3" height="2.00" fill="#F23645"/><rect x="261.52" y="463.00" width="3.3" height="6.60" fill="#089981"/><rect x="265.42" y="438.00" width="3.3" height="25.00" fill="#089981"/><rect x="269.31" y="438.00" width="3.3" height="2.00" fill="#F23645"/><rect x="273.21" y="440.00" width="3.3" height="39.00" fill="#F23645"/><rect x="277.10" y="479.00" width="3.3" height="9.00" fill="#F23645"/><rect x="281.00" y="482.00" width="3.3" height="6.00" fill="#089981"/><rect x="284.89" y="472.40" width="3.3" height="9.60" fill="#089981"/><rect x="288.79" y="472.00" width="3.3" height="2.40" fill="#F23645"/><rect x="292.68" y="474.40" width="3.3" height="8.60" fill="#F23645"/><rect x="296.58" y="479.00" width="3.3" height="4.00" fill="#089981"/><rect x="300.47" y="479.00" width="3.3" height="2.00" fill="#F23645"/><rect x="304.37" y="471.60" width="3.3" height="9.40" fill="#089981"/><rect x="308.26" y="441.60" width="3.3" height="30.00" fill="#089981"/><rect x="312.16" y="434.00" width="3.3" height="7.60" fill="#089981"/><rect x="316.05" y="432.00" width="3.3" height="1.60" fill="#089981"/><rect x="319.95" y="432.00" width="3.3" height="1.60" fill="#F23645"/><rect x="323.84" y="433.60" width="3.3" height="12.40" fill="#F23645"/><rect x="327.74" y="428.00" width="3.3" height="18.00" fill="#089981"/><rect x="331.63" y="428.00" width="3.3" height="4.00" fill="#F23645"/><rect x="335.53" y="432.00" width="3.3" height="9.60" fill="#F23645"/><rect x="339.42" y="439.40" width="3.3" height="1.60" fill="#089981"/><rect x="343.32" y="416.60" width="3.3" height="22.80" fill="#089981"/><rect x="347.21" y="416.60" width="3.3" height="1.00" fill="#F23645"/><rect x="351.11" y="415.00" width="3.3" height="2.60" fill="#089981"/><rect x="355.00" y="408.00" width="3.3" height="7.00" fill="#089981"/><rect x="358.90" y="379.00" width="3.3" height="29.00" fill="#089981"/><rect x="362.79" y="379.00" width="3.3" height="29.00" fill="#F23645"/><rect x="366.69" y="406.40" width="3.3" height="1.20" fill="#089981"/><rect x="370.58" y="406.00" width="3.3" height="1.00" fill="#089981"/><rect x="374.48" y="406.40" width="3.3" height="8.60" fill="#F23645"/><rect x="378.37" y="413.00" width="3.3" height="2.00" fill="#089981"/><rect x="382.27" y="402.00" width="3.3" height="11.60" fill="#089981"/><rect x="386.16" y="402.00" width="3.3" height="2.00" fill="#F23645"/><rect x="390.06" y="404.00" width="3.3" height="16.00" fill="#F23645"/><rect x="393.95" y="420.00" width="3.3" height="3.00" fill="#F23645"/><rect x="397.85" y="403.00" width="3.3" height="20.60" fill="#089981"/><rect x="401.74" y="399.00" width="3.3" height="4.60" fill="#089981"/><rect x="405.64" y="399.00" width="3.3" height="9.00" fill="#F23645"/><rect x="409.53" y="401.00" width="3.3" height="7.00" fill="#089981"/><rect x="413.43" y="401.00" width="3.3" height="3.40" fill="#F23645"/><rect x="417.32" y="405.00" width="3.3" height="2.60" fill="#F23645"/><rect x="421.22" y="407.60" width="3.3" height="4.00" fill="#F23645"/><rect x="425.11" y="410.00" width="3.3" height="1.20" fill="#089981"/><rect x="429.01" y="410.00" width="3.3" height="17.60" fill="#F23645"/><rect x="432.90" y="427.60" width="3.3" height="2.80" fill="#F23645"/><rect x="436.80" y="430.40" width="3.3" height="2.60" fill="#F23645"/><rect x="440.69" y="433.00" width="3.3" height="2.00" fill="#F23645"/><rect x="444.59" y="434.40" width="3.3" height="0.90" fill="#089981"/><rect x="448.48" y="434.40" width="3.3" height="4.60" fill="#F23645"/><rect x="452.38" y="422.00" width="3.3" height="17.00" fill="#089981"/><rect x="456.27" y="422.00" width="3.3" height="11.00" fill="#F23645"/><rect x="460.17" y="433.00" width="3.3" height="8.60" fill="#F23645"/><rect x="464.06" y="429.60" width="3.3" height="12.40" fill="#089981"/><rect x="467.96" y="415.00" width="3.3" height="14.60" fill="#089981"/><rect x="471.85" y="404.40" width="3.3" height="10.60" fill="#089981"/><rect x="475.75" y="387.00" width="3.3" height="17.40" fill="#089981"/><rect x="479.64" y="387.00" width="3.3" height="3.40" fill="#F23645"/><rect x="483.54" y="385.00" width="3.3" height="5.40" fill="#089981"/><rect x="487.43" y="370.00" width="3.3" height="15.00" fill="#089981"/><rect x="491.33" y="353.00" width="3.3" height="17.00" fill="#089981"/><rect x="495.22" y="353.00" width="3.3" height="17.00" fill="#F23645"/><rect x="499.12" y="363.00" width="3.3" height="7.00" fill="#089981"/><rect x="503.01" y="361.00" width="3.3" height="1.40" fill="#089981"/><rect x="506.91" y="361.00" width="3.3" height="6.00" fill="#F23645"/><rect x="510.80" y="339.00" width="3.3" height="28.00" fill="#089981"/><rect x="514.70" y="339.00" width="3.3" height="1.40" fill="#F23645"/><rect x="518.59" y="341.00" width="3.3" height="22.00" fill="#F23645"/><rect x="522.49" y="360.00" width="3.3" height="3.00" fill="#089981"/><rect x="526.38" y="335.60" width="3.3" height="24.40" fill="#089981"/><rect x="530.28" y="294.00" width="3.3" height="41.60" fill="#089981"/><rect x="534.17" y="268.00" width="3.3" height="26.00" fill="#089981"/><rect x="538.07" y="226.00" width="3.3" height="42.00" fill="#089981"/><rect x="541.96" y="182.40" width="3.3" height="43.60" fill="#089981"/><rect x="545.86" y="182.40" width="3.3" height="26.00" fill="#F23645"/><rect x="549.75" y="208.40" width="3.3" height="21.20" fill="#F23645"/><rect x="553.65" y="208.40" width="3.3" height="21.20" fill="#089981"/><rect x="557.54" y="208.40" width="3.3" height="21.20" fill="#F23645"/><rect x="561.44" y="229.60" width="3.3" height="33.40" fill="#F23645"/><rect x="565.33" y="263.00" width="3.3" height="1.00" fill="#F23645"/><rect x="569.23" y="251.00" width="3.3" height="13.00" fill="#089981"/><rect x="573.12" y="251.00" width="3.3" height="14.00" fill="#F23645"/><rect x="577.02" y="265.00" width="3.3" height="23.40" fill="#F23645"/><rect x="580.91" y="272.40" width="3.3" height="16.00" fill="#089981"/><rect x="584.81" y="188.00" width="3.3" height="84.40" fill="#089981"/><rect x="588.70" y="188.00" width="3.3" height="5.00" fill="#F23645"/><rect x="592.60" y="193.00" width="3.3" height="8.60" fill="#F23645"/><rect x="596.49" y="201.60" width="3.3" height="9.40" fill="#F23645"/><rect x="600.39" y="211.00" width="3.3" height="22.60" fill="#F23645"/><rect x="604.28" y="232.00" width="3.3" height="1.60" fill="#089981"/><rect x="608.18" y="231.60" width="3.3" height="56.40" fill="#F23645"/><rect x="612.07" y="253.00" width="3.3" height="35.00" fill="#089981"/><rect x="615.97" y="220.00" width="3.3" height="33.00" fill="#089981"/><rect x="619.86" y="220.00" width="3.3" height="30.00" fill="#F23645"/><rect x="623.75" y="250.00" width="3.3" height="65.60" fill="#F23645"/><rect x="627.65" y="315.60" width="3.3" height="14.80" fill="#F23645"/><rect x="631.55" y="324.00" width="3.3" height="6.40" fill="#089981"/><rect x="635.44" y="309.00" width="3.3" height="15.00" fill="#089981"/><rect x="639.34" y="309.00" width="3.3" height="35.40" fill="#F23645"/><rect x="643.23" y="344.40" width="3.3" height="14.00" fill="#F23645"/><rect x="647.12" y="357.60" width="3.3" height="1.40" fill="#089981"/><rect x="651.02" y="327.00" width="3.3" height="30.00" fill="#089981"/><rect x="654.92" y="318.40" width="3.3" height="8.60" fill="#089981"/><rect x="658.81" y="318.40" width="3.3" height="24.60" fill="#F23645"/><rect x="662.71" y="339.60" width="3.3" height="3.40" fill="#089981"/><rect x="666.60" y="309.00" width="3.3" height="30.60" fill="#089981"/><rect x="670.50" y="309.00" width="3.3" height="26.60" fill="#F23645"/><rect x="674.39" y="335.60" width="3.3" height="4.80" fill="#F23645"/><rect x="678.29" y="260.00" width="3.3" height="80.40" fill="#089981"/><rect x="682.18" y="260.00" width="3.3" height="12.00" fill="#F23645"/><rect x="686.08" y="240.00" width="3.3" height="32.00" fill="#089981"/><rect x="689.97" y="201.00" width="3.3" height="39.00" fill="#089981"/><rect x="693.87" y="168.00" width="3.3" height="33.00" fill="#089981"/><rect x="697.76" y="168.00" width="3.3" height="5.00" fill="#F23645"/><rect x="701.66" y="173.60" width="3.3" height="75.40" fill="#F23645"/><rect x="705.55" y="241.00" width="3.3" height="8.00" fill="#089981"/><rect x="709.45" y="209.60" width="3.3" height="31.40" fill="#089981"/><rect x="713.34" y="209.60" width="3.3" height="40.80" fill="#F23645"/><rect x="717.24" y="250.40" width="3.3" height="6.00" fill="#F23645"/><rect x="721.13" y="254.40" width="3.3" height="2.00" fill="#089981"/><rect x="725.03" y="254.40" width="3.3" height="40.00" fill="#F23645"/><rect x="728.92" y="295.00" width="3.3" height="27.00" fill="#F23645"/><rect x="732.82" y="318.40" width="3.3" height="3.60" fill="#089981"/><rect x="736.71" y="301.00" width="3.3" height="17.40" fill="#089981"/><rect x="740.61" y="301.00" width="3.3" height="33.00" fill="#F23645"/><rect x="744.50" y="334.00" width="3.3" height="55.60" fill="#F23645"/><rect x="748.40" y="390.00" width="3.3" height="14.40" fill="#F23645"/><rect x="752.29" y="391.00" width="3.3" height="13.40" fill="#089981"/><rect x="756.19" y="391.00" width="3.3" height="22.60" fill="#F23645"/><rect x="760.08" y="413.60" width="3.3" height="25.40" fill="#F23645"/><rect x="763.98" y="438.90" width="3.3" height="2.60" fill="#F23645"/></g><line x1="6" y1="441.5" x2="807" y2="441.5" stroke="#F23645" stroke-width="1" stroke-dasharray="1 1" opacity="0.7"/></g><g transform="translate(765.8,552.8)"><circle r="6.35" fill="#fff" stroke="#9c27b0" stroke-width="1.15"/><path d="M2.0,-3.7 L-1.9,0.5 L0.3,0.5 L-1.9,3.4 L2.1,-0.6 L-0.1,-0.6 Z" fill="#9c27b0" stroke="#9c27b0" stroke-width="0.5" stroke-linejoin="round"/></g><text x="812.7" y="36.90" style="font-family:'Liberation Sans',sans-serif;font-size:8.6px" fill="#333">5,200.00</text><text x="812.7" y="59.25" style="font-family:'Liberation Sans',sans-serif;font-size:8.6px" fill="#333">5,000.00</text><text x="812.7" y="81.60" style="font-family:'Liberation Sans',sans-serif;font-size:8.6px" fill="#333">4,800.00</text><text x="812.7" y="103.96" style="font-family:'Liberation Sans',sans-serif;font-size:8.6px" fill="#333">4,600.00</text><text x="812.7" y="126.31" style="font-family:'Liberation Sans',sans-serif;font-size:8.6px" fill="#333">4,400.00</text><text x="812.7" y="148.66" style="font-family:'Liberation Sans',sans-serif;font-size:8.6px" fill="#333">4,200.00</text><text x="812.7" y="171.01" style="font-family:'Liberation Sans',sans-serif;font-size:8.6px" fill="#333">4,000.00</text><text x="812.7" y="193.36" style="font-family:'Liberation Sans',sans-serif;font-size:8.6px" fill="#333">3,800.00</text><text x="812.7" y="215.72" style="font-family:'Liberation Sans',sans-serif;font-size:8.6px" fill="#333">3,600.00</text><text x="812.7" y="238.07" style="font-family:'Liberation Sans',sans-serif;font-size:8.6px" fill="#333">3,400.00</text><text x="812.7" y="260.42" style="font-family:'Liberation Sans',sans-serif;font-size:8.6px" fill="#333">3,200.00</text><text x="812.7" y="282.77" style="font-family:'Liberation Sans',sans-serif;font-size:8.6px" fill="#333">3,000.00</text><text x="812.7" y="305.12" style="font-family:'Liberation Sans',sans-serif;font-size:8.6px" fill="#333">2,800.00</text><text x="812.7" y="327.48" style="font-family:'Liberation Sans',sans-serif;font-size:8.6px" fill="#333">2,600.00</text><text x="812.7" y="349.83" style="font-family:'Liberation Sans',sans-serif;font-size:8.6px" fill="#333">2,400.00</text><text x="812.7" y="372.18" style="font-family:'Liberation Sans',sans-serif;font-size:8.6px" fill="#333">2,200.00</text><text x="812.7" y="394.53" style="font-family:'Liberation Sans',sans-serif;font-size:8.6px" fill="#333">2,000.00</text><text x="812.7" y="416.88" style="font-family:'Liberation Sans',sans-serif;font-size:8.6px" fill="#333">1,800.00</text><text x="812.7" y="439.24" style="font-family:'Liberation Sans',sans-serif;font-size:8.6px" fill="#333">1,600.00</text><text x="812.7" y="461.59" style="font-family:'Liberation Sans',sans-serif;font-size:8.6px" fill="#333">1,400.00</text><text x="812.7" y="483.94" style="font-family:'Liberation Sans',sans-serif;font-size:8.6px" fill="#333">1,200.00</text><text x="812.7" y="506.29" style="font-family:'Liberation Sans',sans-serif;font-size:8.6px" fill="#333">1,000.00</text><text x="812.7" y="528.64" style="font-family:'Liberation Sans',sans-serif;font-size:8.6px" fill="#333">800.00</text><text x="812.7" y="551.00" style="font-family:'Liberation Sans',sans-serif;font-size:8.6px" fill="#333">600.00</text><rect x="807.2" y="436" width="42.8" height="19.8" rx="1.2" fill="#F23645"/><text x="813.2" y="444.0" style="font-family:'Liberation Sans',sans-serif;font-size:8.6px" fill="#fff">1,557.67</text><text x="813.2" y="452.7" style="font-family:'Liberation Sans',sans-serif;font-size:8.6px" fill="#fff">2d 11h</text><rect x="807.2" y="503.2" width="33.7" height="10.8" rx="1" fill="#ef5350"/><text x="812.6" y="511.6" style="font-family:'Liberation Sans',sans-serif;font-size:8.3px" fill="#fff">6.28 M</text><text x="37.26" y="573.8" text-anchor="middle" style="font-family:'Liberation Sans',sans-serif;font-size:8.2px;font-weight:normal" fill="#333">Sep</text><text x="103.47" y="573.8" text-anchor="middle" style="font-family:'Liberation Sans',sans-serif;font-size:8.6px;font-weight:bold" fill="#333">2022</text><text x="138.53" y="573.8" text-anchor="middle" style="font-family:'Liberation Sans',sans-serif;font-size:8.2px;font-weight:normal" fill="#333">Mar</text><text x="204.75" y="573.8" text-anchor="middle" style="font-family:'Liberation Sans',sans-serif;font-size:8.2px;font-weight:normal" fill="#333">Jul</text><text x="239.80" y="573.8" text-anchor="middle" style="font-family:'Liberation Sans',sans-serif;font-size:8.2px;font-weight:normal" fill="#333">Sep</text><text x="306.02" y="573.8" text-anchor="middle" style="font-family:'Liberation Sans',sans-serif;font-size:8.6px;font-weight:bold" fill="#333">2023</text><text x="341.07" y="573.8" text-anchor="middle" style="font-family:'Liberation Sans',sans-serif;font-size:8.2px;font-weight:normal" fill="#333">Mar</text><text x="407.29" y="573.8" text-anchor="middle" style="font-family:'Liberation Sans',sans-serif;font-size:8.2px;font-weight:normal" fill="#333">Jul</text><text x="442.34" y="573.8" text-anchor="middle" style="font-family:'Liberation Sans',sans-serif;font-size:8.2px;font-weight:normal" fill="#333">Sep</text><text x="508.56" y="573.8" text-anchor="middle" style="font-family:'Liberation Sans',sans-serif;font-size:8.6px;font-weight:bold" fill="#333">2024</text><text x="543.61" y="573.8" text-anchor="middle" style="font-family:'Liberation Sans',sans-serif;font-size:8.2px;font-weight:normal" fill="#333">Mar</text><text x="609.83" y="573.8" text-anchor="middle" style="font-family:'Liberation Sans',sans-serif;font-size:8.2px;font-weight:normal" fill="#333">Jul</text><text x="644.88" y="573.8" text-anchor="middle" style="font-family:'Liberation Sans',sans-serif;font-size:8.2px;font-weight:normal" fill="#333">Sep</text><text x="679.94" y="573.8" text-anchor="middle" style="font-family:'Liberation Sans',sans-serif;font-size:8.2px;font-weight:normal" fill="#333">Nov</text><text x="714.99" y="573.8" text-anchor="middle" style="font-family:'Liberation Sans',sans-serif;font-size:8.6px;font-weight:bold" fill="#333">2025</text><text x="781.21" y="573.8" text-anchor="middle" style="font-family:'Liberation Sans',sans-serif;font-size:8.2px;font-weight:normal" fill="#333">May</text><text x="6.7" y="12.8" style="font-family:'Liberation Sans',sans-serif;font-size:8.15px" fill="#131722" stroke="#131722" stroke-width="0.22">Published on TradingView.com, Apr 11, 2025 13:02 UTC</text><text x="11.9" y="30.4" style="font-family:'Liberation Sans',sans-serif;font-size:7.9px" fill="#131722">Ethereum / TetherUS · 1W · BINANCE<tspan x="151.2">O</tspan><tspan fill="#F23645">1,580.77</tspan><tspan x="192.7">H</tspan><tspan fill="#F23645">1,689.00</tspan><tspan x="234.7">L</tspan><tspan fill="#F23645">1,385.05</tspan><tspan x="274.8">C</tspan><tspan fill="#F23645">1,557.67</tspan><tspan x="315" fill="#F23645">−23.09</tspan><tspan x="343.4" fill="#F23645">(−1.46%)</tspan></text><text x="11.9" y="41.6" style="font-family:'Liberation Sans',sans-serif;font-size:7.9px" fill="#131722">Vol · ETH<tspan x="49.8" fill="#F23645">6.28 M</tspan></text><g transform="translate(6.3,585.6) scale(0.355)"><path d="M14 22H7V11H0V4h14v18zM28 22h-8l7.5-18h8L28 22z" fill="#131722"/><circle cx="20" cy="8" r="4" fill="#131722"/></g><text x="22.1" y="593.5" style="font-family:'Liberation Sans',sans-serif;font-size:8.75px" fill="#131722">TradingView</text></svg>
</body></html>
